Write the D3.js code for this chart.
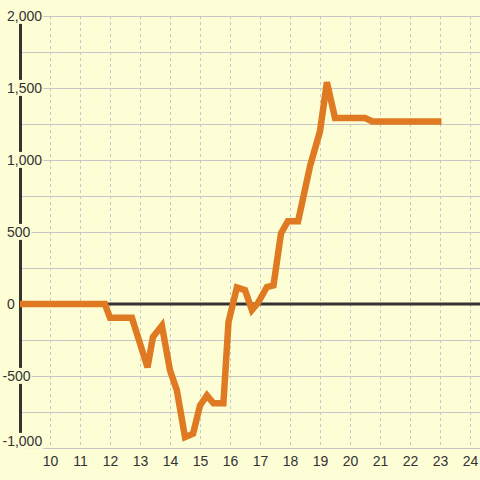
<!DOCTYPE html>
<html>
<meta charset="utf-8">
<title>line</title>
<style>
html,body{
  margin:0;
  background:#fdfdd6;
}
svg {
  background-color: #fdfdd6;
  display:block;
}
text {
  font: 14px "Liberation Sans", Arial, sans-serif;
  fill: #333;
}
</style>
<script src="https://d3js.org/d3.v7.min.js"></script>
<body>
<script>

// hours on the x axis, value on the y axis
var hours = [9, 11.83, 12.0, 12.73, 13.25, 13.43, 13.73, 14.0, 14.23, 14.5, 14.77,
             15.0, 15.23, 15.45, 15.78, 15.95, 16.23, 16.5, 16.73, 16.93, 17.23,
             17.45, 17.7, 17.93, 18.27, 18.67, 19.0, 19.23, 19.5, 20.5, 20.75, 23.05];
var values = [0, 0, -95, -95, -440, -230, -150, -460, -600, -925, -900,
              -705, -635, -690, -690, -125, 115, 97, -42, 7, 118,
              130, 490, 575, 575, 960, 1200, 1540, 1292, 1292, 1268, 1268];

var xTicks = [10, 11, 12, 13, 14, 15, 16, 17, 18, 19, 20, 21, 22, 23, 24];
var yGrid = [-1000, -750, -500, -250, 0, 250, 500, 750, 1000, 1250, 1500, 1750, 2000];
var yTicks = [-1000, -500, 0, 500, 1000, 1500, 2000];

var width = 480, height = 480;
var bg = "#fdfdd6";

var x = d3.scaleLinear().domain([9, 24.333]).range([20, 480]);
var y = d3.scaleLinear().domain([-1000, 2000]).range([448, 16]);

var svg = d3.select("body").append("svg")
    .attr("width", width)
    .attr("height", height);

// vertical dotted grid
svg.append("g").selectAll("line")
    .data(xTicks)
  .enter().append("line")
    .attr("x1", function(d){ return x(d) + 0.5; })
    .attr("x2", function(d){ return x(d) + 0.5; })
    .attr("y1", y(2000))
    .attr("y2", y(-1000))
    .attr("stroke", "#c8c8c8")
    .attr("stroke-dasharray", "3,3");

// horizontal grid
svg.append("g").selectAll("line")
    .data(yGrid)
  .enter().append("line")
    .attr("x1", 20)
    .attr("x2", 480)
    .attr("y1", function(d){ return Math.round(y(d)) + 0.5; })
    .attr("y2", function(d){ return Math.round(y(d)) + 0.5; })
    .attr("stroke", "#c6c6c6")
    .attr("stroke-width", 1.2);

// zero line
svg.append("line")
    .attr("x1", 20).attr("x2", 480)
    .attr("y1", y(0)).attr("y2", y(0))
    .attr("stroke", "#333")
    .attr("stroke-width", 3);

// y axis line
svg.append("line")
    .attr("x1", 20.5).attr("x2", 20.5)
    .attr("y1", y(2000)).attr("y2", y(-1000))
    .attr("stroke", "#333")
    .attr("stroke-width", 3);

// the series
var line = d3.line()
    .x(function(d, i){ return x(hours[i]); })
    .y(function(d){ return y(d); });

svg.append("path")
    .datum(values)
    .attr("d", line)
    .attr("fill", "none")
    .attr("stroke", "#e07a22")
    .attr("stroke-width", 6.5);

// y labels with a background box
var fmt = d3.format(",");
var yl = svg.append("g").selectAll("g")
    .data(yTicks)
  .enter().append("g");

yl.append("text")
    .attr("x", function(d){ return d < 0 ? 2.5 : 7; })
    .attr("y", function(d){ return Math.min(y(d), 441); })
    .attr("dy", "0.35em")
    .text(function(d){ return fmt(d).replace("−", "-"); });

yl.each(function(){
  var t = d3.select(this).select("text");
  var b = t.node().getBBox();
  d3.select(this).insert("rect", "text")
    .attr("x", b.x - 1).attr("y", b.y)
    .attr("width", b.width + 2).attr("height", b.height)
    .attr("fill", bg);
});

// x labels
svg.append("g").selectAll("text")
    .data(xTicks)
  .enter().append("text")
    .attr("x", function(d){ return x(d) + 0.5; })
    .attr("y", 461)
    .attr("dy", "0.35em")
    .attr("text-anchor", "middle")
    .text(function(d){ return d; });

</script>
</body>
</html>
